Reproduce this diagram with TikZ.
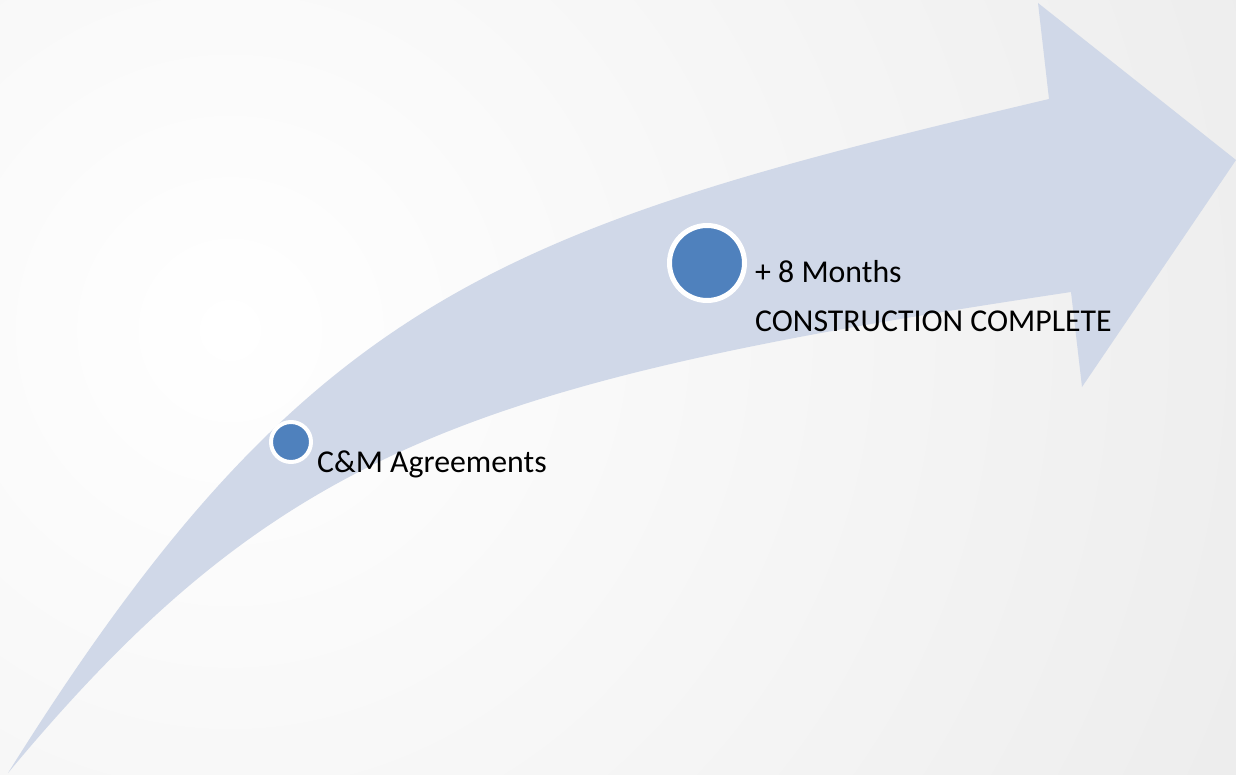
\documentclass[tikz,border=0pt]{standalone}
\usepackage{fontspec}
\setmainfont{Carlito}
\definecolor{arrowfill}{HTML}{D0D8E8}
\definecolor{dotblue}{HTML}{4F81BD}
\definecolor{bgmid}{HTML}{F3F3F3}
\definecolor{bgouter}{HTML}{D8D8D8}
\pgfdeclareradialshading{bgshade}{\pgfpoint{0bp}{0bp}}{color(0bp)=(white); color(16bp)=(bgmid); color(50bp)=(bgouter)}
\begin{document}
\begin{tikzpicture}[x=1pt,y=-1pt,
  dot/.style={circle, fill=dotblue, draw=white, inner sep=0pt, outer sep=0pt},
  lbl/.style={anchor=base west, inner sep=0pt, font=\fontsize{31.8pt}{38pt}\selectfont, text=black}]
\useasboundingbox (0,0) rectangle (1236,775);
\begin{scope}
  \clip (0,0) rectangle (1236,775);
  \shade[shading=bgshade] (230,330) circle (1150pt);
\end{scope}
% curved arrow
\fill[arrowfill] (8,773) .. controls (308,293) and (503,228) .. (1049,99)
  -- (1038,3) -- (1236,160) -- (1082,387) -- (1071,292)
  .. controls (471,382) and (277,449.6) .. (8,773) -- cycle;
% milestones
\node[dot, minimum size=40pt, line width=4pt] (d1) at (291,442) {};
\node[dot, minimum size=75pt, line width=5pt] (d2) at (707,263) {};
\node[lbl] (t1) at (317,472) {C\&M Agreements};
\node[lbl] (t2) at (755,283) {+ 8 Months};
\node[lbl] (t3) at (755,331) {CONSTRUCTION COMPLETE};
\end{tikzpicture}
\end{document}
